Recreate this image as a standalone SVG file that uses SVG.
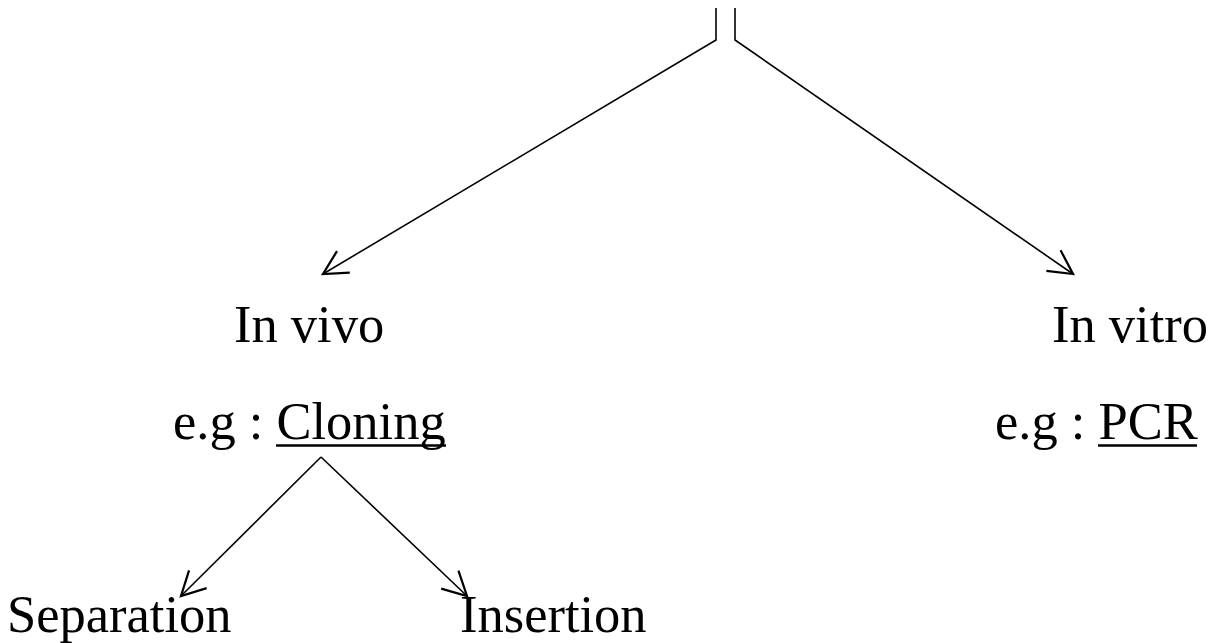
<svg xmlns="http://www.w3.org/2000/svg" width="1210" height="643" viewBox="0 0 1210 643">
<style>
text{font-family:"Liberation Serif","Times New Roman",serif;font-size:52.5px;fill:#000}
.u{stroke:#000;stroke-width:2.6}
.c{fill:none;stroke:#000;stroke-width:1.6}
</style>
<defs>
<marker id="ah" markerUnits="userSpaceOnUse" markerWidth="30" markerHeight="30" viewBox="-22 -12 24 24" refX="0" refY="0" orient="auto">
<path d="M-19,-10 L0,0 L-19,10" fill="none" stroke="#000" stroke-width="1.8"/>
</marker>
</defs>
<rect width="1210" height="643" fill="#fff"/>
<g id="connectors">
<polyline class="c" points="716,8 716,40 323,274" marker-end="url(#ah)"/>
<polyline class="c" points="735,8 735,40 1073,274" marker-end="url(#ah)"/>
<line class="c" x1="321" y1="457" x2="181" y2="596" marker-end="url(#ah)"/>
<line class="c" x1="321" y1="457" x2="467" y2="596" marker-end="url(#ah)"/>
</g>
<g id="invivo"><text x="234" y="342">In vivo</text></g>
<g id="cloning"><text x="173" y="439">e.g : Cloning</text><line class="u" x1="276" y1="445.5" x2="446" y2="445.5"/></g>
<g id="invitro"><text x="1052" y="342">In vitro</text></g>
<g id="pcr"><text x="995" y="439">e.g : PCR</text><line class="u" x1="1098" y1="445.5" x2="1197" y2="445.5"/></g>
<g id="separation"><text x="7" y="632">Separation</text></g>
<g id="insertion"><text x="460" y="632">Insertion</text></g>
</svg>
